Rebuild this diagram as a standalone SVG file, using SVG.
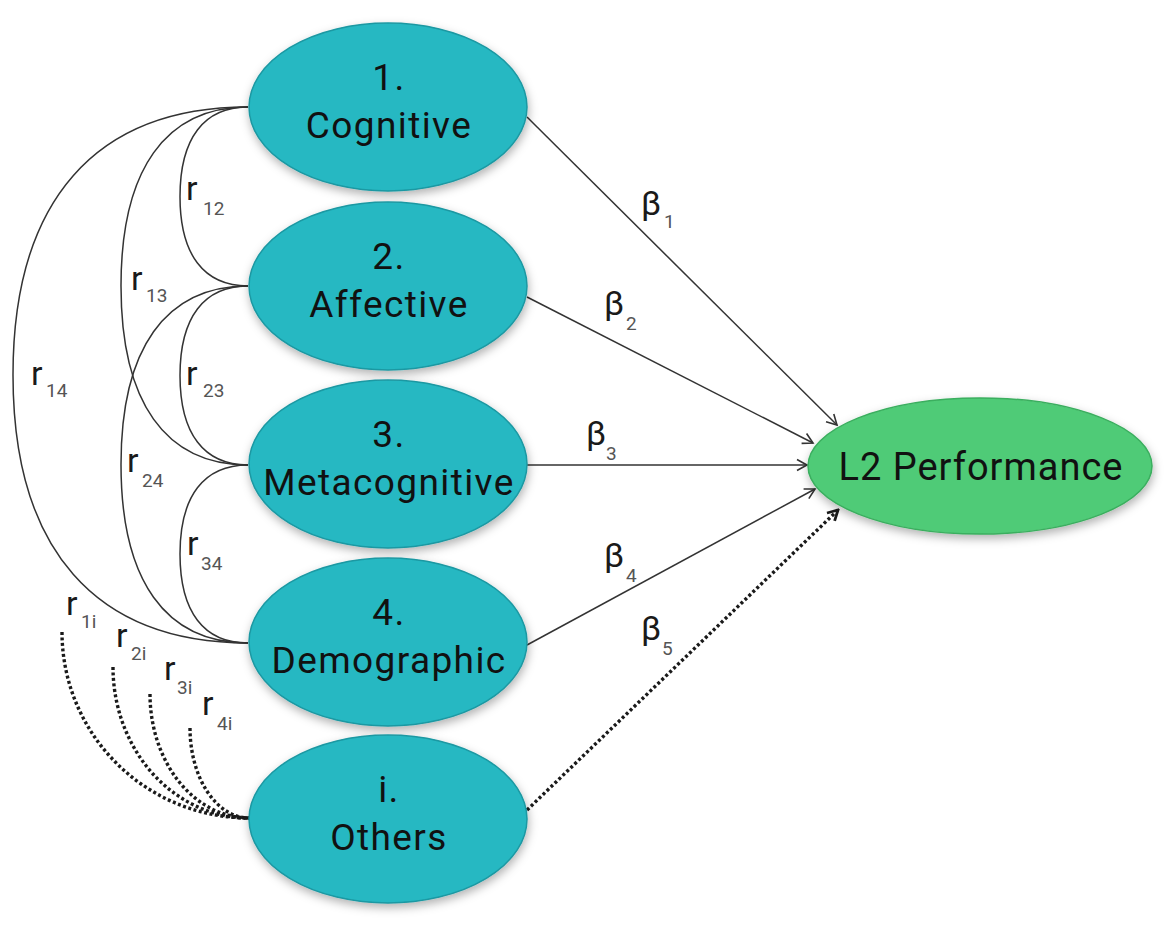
<svg xmlns="http://www.w3.org/2000/svg" width="1176" height="933" viewBox="0 0 1176 933">
<style>
.node{fill:#25B8C2;stroke:#1C98A2;stroke-width:1.5}
.out{fill:#50CB77;stroke:#3AAE5E;stroke-width:1.5}
.nt{font-family:Roboto,"Liberation Sans",sans-serif;font-size:37px;fill:#111;text-anchor:middle;letter-spacing:1.4px}
.lt{font-family:Roboto,"Liberation Sans",sans-serif;font-size:38px;fill:#111;text-anchor:middle;letter-spacing:1px}
.sym{font-family:Roboto,"Liberation Sans",sans-serif;font-size:34px;fill:#1a1a1a}
.sub{font-family:Roboto,"Liberation Sans",sans-serif;font-size:19px;fill:#555}
.corr{fill:none;stroke:#333;stroke-width:1.5}
.dot{fill:none;stroke:#1a1a1a;stroke-width:3.4;stroke-dasharray:3 2.5}
.arr{fill:none;stroke:#333;stroke-width:1.5}
</style>
<defs>
<filter id="sh" x="-20%" y="-20%" width="140%" height="150%">
<feDropShadow dx="1" dy="4" stdDeviation="5" flood-color="#000" flood-opacity="0.3"/>
</filter>
<marker id="ah" viewBox="0 0 14 14" markerWidth="14" markerHeight="14" refX="12" refY="7" orient="auto" markerUnits="userSpaceOnUse">
<path d="M2,1.5 L12,7 L2,12.5" fill="none" stroke="#333" stroke-width="1.6"/>
</marker>
<marker id="ahd" viewBox="0 0 14 14" markerWidth="14" markerHeight="14" refX="12" refY="7" orient="auto" markerUnits="userSpaceOnUse">
<path d="M2,1.5 L12,7 L2,12.5" fill="none" stroke="#1a1a1a" stroke-width="2.8"/>
</marker>
</defs>
<rect width="1176" height="933" fill="#fff"/>

<g id="connectors">
<path class="corr" d="M248,107 C203.8,107 180,138.3 180,196.5 C180,254.7 203.8,286 248,286"/>
<path class="corr" d="M248,107 C165.4,107 121,169.6 121,286 C121,402.4 165.4,465 248,465"/>
<path class="corr" d="M248,107 C95.2,107 13,200.8 13,375 C13,549.2 95.2,643 248,643"/>
<path class="corr" d="M248,286 C203.8,286 180,317.3 180,375.5 C180,433.7 203.8,465 248,465"/>
<path class="corr" d="M248,286 C165.4,286 121,348.5 121,464.5 C121,580.5 165.4,643 248,643"/>
<path class="corr" d="M248,465 C203.8,465 180,496.1 180,554 C180,611.9 203.8,643 248,643"/>
<path class="dot" d="M62,632 A187,186 0 0 0 249,818"/>
<path class="dot" d="M113,667 A136,151 0 0 0 249,818"/>
<path class="dot" d="M150,694 A99,124 0 0 0 249,818"/>
<path class="dot" d="M190,728 A59,90 0 0 0 249,818"/>
<path class="arr" d="M527,117 L837,425" marker-end="url(#ah)"/>
<path class="arr" d="M527,297 L813,443" marker-end="url(#ah)"/>
<path class="arr" d="M527,465 L807,465" marker-end="url(#ah)"/>
<path class="arr" d="M527,645 L815,489" marker-end="url(#ah)"/>
<path class="dot" d="M527,810 L838,510" marker-end="url(#ahd)"/>

<text class="sym" x="186" y="200">r</text><text class="sub" x="203" y="215">12</text>
<text class="sym" x="131" y="290">r</text><text class="sub" x="146" y="302">13</text>
<text class="sym" x="31" y="385">r</text><text class="sub" x="46" y="397">14</text>
<text class="sym" x="186" y="385">r</text><text class="sub" x="203" y="397">23</text>
<text class="sym" x="127" y="472">r</text><text class="sub" x="142" y="487">24</text>
<text class="sym" x="187" y="555">r</text><text class="sub" x="201" y="570">34</text>
<text class="sym" x="66" y="615">r</text><text class="sub" x="81" y="628">1i</text>
<text class="sym" x="116" y="647">r</text><text class="sub" x="131" y="660">2i</text>
<text class="sym" x="164" y="680">r</text><text class="sub" x="177" y="694">3i</text>
<text class="sym" x="202" y="715">r</text><text class="sub" x="217" y="730">4i</text>

<text class="sym" x="641" y="215">β</text><text class="sub" x="664" y="228">1</text>
<text class="sym" x="604" y="315">β</text><text class="sub" x="626" y="330">2</text>
<text class="sym" x="586" y="445">β</text><text class="sub" x="606" y="460">3</text>
<text class="sym" x="604" y="567">β</text><text class="sub" x="626" y="582">4</text>
<text class="sym" x="641" y="640">β</text><text class="sub" x="662" y="655">5</text>
</g>

<g id="n1" filter="url(#sh)"><ellipse class="node" cx="388" cy="107" rx="139" ry="84"/></g>
<g id="n1-label"><text class="nt" x="389" y="90">1.</text><text class="nt" x="389" y="138">Cognitive</text></g>
<g id="n2" filter="url(#sh)"><ellipse class="node" cx="388" cy="286" rx="139" ry="84"/></g>
<g id="n2-label"><text class="nt" x="389" y="269">2.</text><text class="nt" x="389" y="317">Affective</text></g>
<g id="n3" filter="url(#sh)"><ellipse class="node" cx="388" cy="464" rx="139" ry="84"/></g>
<g id="n3-label"><text class="nt" x="389" y="447">3.</text><text class="nt" x="389" y="495">Metacognitive</text></g>
<g id="n4" filter="url(#sh)"><ellipse class="node" cx="388" cy="642" rx="139" ry="84"/></g>
<g id="n4-label"><text class="nt" x="389" y="625">4.</text><text class="nt" x="389" y="673">Demographic</text></g>
<g id="n5" filter="url(#sh)"><ellipse class="node" cx="388" cy="819" rx="139" ry="84"/></g>
<g id="n5-label"><text class="nt" x="389" y="802">i.</text><text class="nt" x="389" y="850">Others</text></g>
<g id="l2" filter="url(#sh)"><ellipse class="out" cx="980" cy="466" rx="172" ry="68"/></g>
<g id="l2-label"><text class="lt" x="981" y="480">L2 Performance</text></g>
</svg>
